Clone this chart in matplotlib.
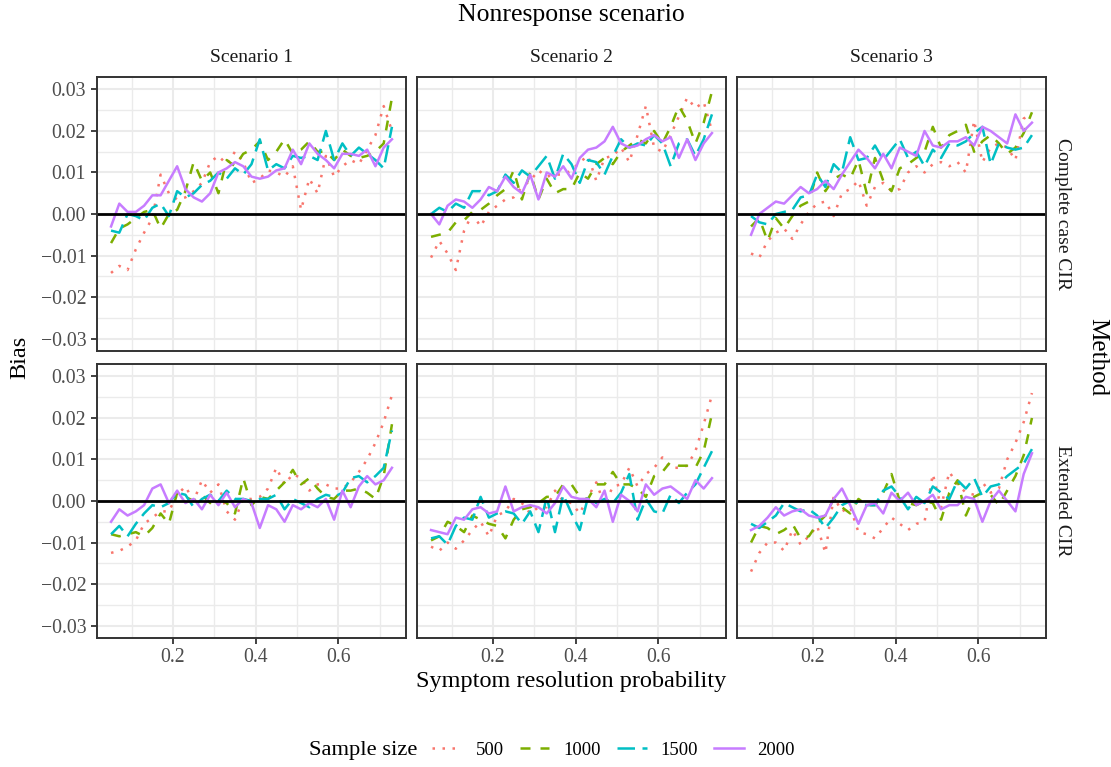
import numpy as np
import matplotlib
matplotlib.use("Agg")
import matplotlib.pyplot as plt
from matplotlib.lines import Line2D
from matplotlib.ticker import FixedLocator, FuncFormatter

plt.rcParams['font.family'] = ['Liberation Serif', 'DejaVu Serif']

# ---------------- data ----------------
resolution_prob = np.round(np.arange(0.05, 0.7301, 0.02), 2)
sample_sizes = ["500", "1000", "1500", "2000"]
scenarios = ["Scenario 1", "Scenario 2", "Scenario 3"]
methods = ["Complete case CIR", "Extended CIR"]

# bias values, in units of 0.001
cc_s1_500 = [-14.2, -12.5, -13.5, -8.5, -4.5, -1.0, 9.5, 5.0, 3.5, 4.0, 5.5, 7.5, 12.5, 14.0, 12.0, 15.0, 12.5, 7.5, 8.5, 10.5, 10.0, 9.0, 11.5, 1.0, 8.5, 5.0, 14.0, 9.0, 11.5, 13.0, 12.0, 15.5, 19.0, 26.0, 20.0]
cc_s1_1000 = [-7.0, -3.5, -2.5, -1.0, 0.5, 1.0, -3.5, 0.0, 1.0, 5.5, 12.5, 8.0, 10.0, 5.0, 13.0, 11.5, 14.5, 15.5, 17.5, 13.0, 15.0, 18.0, 14.5, 15.5, 17.5, 15.0, 15.0, 13.0, 15.5, 14.0, 13.5, 14.0, 15.0, 17.0, 28.0]
cc_s1_1500 = [-4.0, -4.5, 0.0, -0.5, -1.5, 1.5, 2.5, -0.5, 5.5, 4.0, 5.0, 7.0, 8.0, 10.0, 8.5, 11.0, 9.5, 12.0, 18.0, 10.5, 12.0, 11.0, 14.0, 13.5, 14.0, 13.0, 20.0, 13.0, 17.0, 14.0, 16.0, 14.5, 13.0, 11.0, 21.0]
cc_s1_2000 = [-3.0, 2.5, 0.5, 0.5, 2.0, 4.5, 4.5, 8.0, 11.5, 6.0, 4.0, 3.0, 5.0, 10.0, 11.0, 12.5, 11.5, 9.0, 8.5, 9.0, 10.5, 11.0, 15.5, 12.0, 17.0, 14.5, 13.0, 11.0, 14.5, 14.5, 14.0, 15.5, 11.5, 16.0, 18.0]

cc_s2_500 = [-10.5, -6.5, -9.5, -13.5, -4.0, 0.0, -3.0, 0.5, 2.0, 3.5, 4.0, 6.5, 8.0, 10.5, 9.0, 9.5, 9.5, 10.5, 12.5, 14.0, 8.0, 13.5, 14.0, 16.0, 12.5, 19.0, 26.0, 16.0, 15.0, 19.0, 23.5, 28.0, 25.5, 27.0, 20.0]
cc_s2_1000 = [-5.5, -5.0, -4.5, -2.0, -1.5, 0.5, 1.0, 2.5, 4.5, 6.0, 10.5, 3.5, 10.0, 3.5, 8.5, 5.0, 6.0, 6.0, 10.0, 8.5, 12.0, 13.5, 12.0, 15.0, 16.5, 18.0, 17.0, 20.0, 17.0, 21.0, 26.0, 22.5, 17.0, 22.0, 29.5]
cc_s2_1500 = [0.0, 1.5, 0.5, 2.5, 1.5, 5.5, 5.5, 4.5, 5.5, 9.5, 7.5, 10.5, 9.0, 11.5, 14.0, 8.5, 14.5, 12.0, 7.5, 13.0, 12.5, 9.5, 14.0, 18.0, 16.0, 17.0, 16.5, 19.0, 17.0, 11.5, 17.0, 18.0, 14.0, 18.0, 24.0]
cc_s2_2000 = [0.0, -2.5, 2.0, 3.5, 3.0, 1.5, 3.5, 6.5, 5.5, 9.0, 6.5, 5.0, 9.5, 3.5, 10.0, 9.0, 11.5, 8.5, 13.5, 15.5, 16.0, 17.5, 21.0, 17.0, 16.0, 16.5, 18.0, 19.0, 17.5, 18.5, 13.5, 18.0, 13.0, 17.0, 19.5]

cc_s3_500 = [-9.5, -10.5, -6.5, -4.5, -3.5, -6.0, -2.5, 0.5, 2.5, 3.0, -0.5, 5.0, 6.0, 8.0, 2.0, 6.5, 7.5, 5.5, 6.0, 10.0, 11.5, 10.0, 12.0, 12.5, 11.5, 12.5, 10.0, 22.5, 12.5, 16.0, 17.0, 16.0, 13.0, 23.0, 24.0]
cc_s3_1000 = [-3.0, -1.0, -6.5, -1.0, -3.5, -0.5, 2.0, 3.0, 10.0, 5.5, 8.5, 9.5, 8.5, 13.0, 5.0, 13.5, 8.0, 5.5, 11.0, 12.0, 13.5, 15.0, 21.0, 16.0, 19.0, 20.0, 21.5, 15.0, 17.5, 19.0, 17.0, 14.5, 16.0, 19.5, 24.5]
cc_s3_1500 = [-0.5, -2.0, -2.5, 0.0, 0.5, 1.0, 4.0, 4.5, 9.5, 6.5, 12.0, 10.0, 18.5, 13.0, 13.5, 16.5, 13.0, 15.5, 18.0, 13.5, 15.0, 11.5, 15.5, 13.5, 17.0, 16.5, 17.5, 19.5, 21.0, 12.0, 17.0, 16.0, 15.5, 16.0, 19.0]
cc_s3_2000 = [-5.0, 0.0, 1.5, 3.0, 2.5, 4.5, 6.5, 5.0, 6.0, 8.0, 6.0, 9.5, 12.5, 15.5, 13.5, 11.0, 14.5, 11.0, 16.0, 15.0, 14.0, 20.0, 16.5, 16.0, 17.5, 17.5, 18.5, 16.5, 21.0, 20.0, 18.5, 17.0, 24.0, 20.0, 22.0]

ex_s1_500 = [-12.5, -12.0, -11.0, -9.5, -5.5, -4.0, -2.5, -2.5, 1.5, 3.5, 0.0, 5.0, 2.0, 4.0, -2.5, -4.5, 0.5, 0.5, 1.0, 3.0, 8.0, 4.0, 6.5, 5.5, 2.5, 4.0, 4.0, 3.0, 3.0, 4.5, 7.0, 10.0, 14.0, 19.0, 25.5]
ex_s1_1000 = [-8.0, -8.5, -8.0, -7.5, -8.5, -6.5, -3.0, -5.5, 2.0, 1.0, 0.0, 1.5, -0.5, 0.5, -0.5, -3.0, 5.5, -1.0, 1.0, 0.5, 2.5, 4.5, 7.5, 4.0, 5.5, 3.0, 1.0, 0.5, 2.5, 2.5, 3.0, 2.0, 0.5, 6.0, 18.5]
ex_s1_1500 = [-8.0, -6.0, -8.5, -5.5, -3.0, -1.0, -1.5, -0.5, 2.0, 1.5, -1.5, 0.5, 1.5, 0.0, 2.5, 0.5, 0.5, 0.0, 0.5, 0.5, 1.5, -2.0, 0.5, -0.5, -1.5, 0.5, 1.5, 1.0, 2.0, 5.5, 6.0, 4.5, 6.0, 8.0, 17.0]
ex_s1_2000 = [-5.0, -2.0, -3.5, -2.5, -1.0, 3.0, 4.0, -0.5, 2.5, -0.5, 0.5, -2.0, 1.5, -1.0, 2.0, -1.5, 0.5, -0.5, -6.5, -1.0, -2.0, -5.0, -1.0, -2.0, -0.5, -1.5, 0.5, -4.5, 2.5, -1.5, 3.5, 6.0, 4.0, 5.0, 8.0]

ex_s2_500 = [-11.0, -12.0, -10.0, -11.5, -9.5, -7.0, -5.0, -8.5, -3.5, -2.5, 0.5, -0.5, -3.0, -1.5, -1.5, 2.5, 0.0, -0.5, -3.0, 1.0, 4.5, -1.0, 3.5, 4.0, 8.0, 3.5, 6.5, 8.0, 10.5, 8.0, 8.0, 8.5, 12.0, 18.5, 25.5]
ex_s2_1000 = [-9.5, -8.5, -5.0, -6.0, -7.5, -3.5, -4.5, -5.5, -6.0, -9.0, -4.5, -2.0, -1.5, -0.5, 1.0, 1.0, 4.0, 4.0, 1.0, 0.5, 4.0, 4.0, 7.0, 4.0, 4.0, 3.0, 1.0, 6.0, 7.0, 9.5, 8.5, 8.5, 8.0, 12.0, 21.0]
ex_s2_1500 = [-9.0, -8.5, -10.5, -6.0, -4.0, -4.5, 1.0, -4.0, -3.0, -2.5, -3.0, -5.5, -2.5, -7.5, 1.0, -7.5, 1.5, -3.0, -7.0, 1.0, -0.5, 0.5, -0.5, 2.0, 6.5, -4.5, 0.5, -2.5, -3.0, 1.5, -0.5, 2.0, 4.0, 8.0, 12.0]
ex_s2_2000 = [-7.0, -7.5, -8.0, -4.0, -4.5, -2.0, -1.5, -3.0, -2.5, 3.5, -2.5, -1.5, -1.0, -1.5, -3.0, -0.5, 3.5, 1.0, 0.5, 0.5, -1.5, 2.5, -5.0, 1.5, 0.0, -2.5, 4.0, 1.5, 3.0, 3.5, 2.0, 0.5, 5.0, 3.0, 5.5]

ex_s3_500 = [-17.0, -12.5, -10.0, -10.0, -12.0, -7.0, -10.5, -8.5, -6.0, -12.5, 1.0, -2.5, -1.5, -7.5, -8.0, -9.0, -6.5, -4.0, -5.5, -7.0, -5.5, -5.0, 6.5, -1.5, 7.0, 4.0, 2.0, 1.5, 4.5, 2.0, 3.0, 10.0, 14.0, 19.0, 26.0]
ex_s3_1000 = [-10.0, -6.0, -6.5, -8.0, -7.0, -5.5, -9.0, -8.5, -5.5, -3.5, 0.5, -1.5, -3.0, 0.5, -1.0, -1.0, 2.0, 6.5, 0.0, -0.5, -1.0, 0.0, -0.5, -4.5, 2.0, 5.0, -3.5, 1.0, 2.0, 1.5, -1.0, 2.5, 6.0, 11.0, 20.0]
ex_s3_1500 = [-5.5, -6.5, -5.0, -3.5, -0.5, -1.5, -2.5, -2.0, -3.5, -6.5, -4.0, -1.0, 0.0, -0.5, -1.0, -1.0, 2.5, 3.5, 1.0, -2.0, 1.0, -0.5, 3.5, 2.0, 0.5, 5.0, 3.0, 5.5, 1.0, 3.5, 4.0, 6.0, 7.5, 9.0, 12.5]
ex_s3_2000 = [-7.0, -6.0, -4.0, -1.5, -3.5, -2.5, -2.0, -3.5, -4.0, -3.5, 0.5, 3.0, -1.0, -5.5, -1.0, -0.5, -3.0, 2.0, 0.0, 2.0, -1.0, 0.0, 1.5, -2.0, -1.0, -1.0, 1.0, 0.5, -5.0, 0.0, 2.5, 0.0, -2.5, 6.5, 11.5]

panels = {
    (0, 0): [cc_s1_500, cc_s1_1000, cc_s1_1500, cc_s1_2000],
    (0, 1): [cc_s2_500, cc_s2_1000, cc_s2_1500, cc_s2_2000],
    (0, 2): [cc_s3_500, cc_s3_1000, cc_s3_1500, cc_s3_2000],
    (1, 0): [ex_s1_500, ex_s1_1000, ex_s1_1500, ex_s1_2000],
    (1, 1): [ex_s2_500, ex_s2_1000, ex_s2_1500, ex_s2_2000],
    (1, 2): [ex_s3_500, ex_s3_1000, ex_s3_1500, ex_s3_2000],
}

y_ticks = [-0.03, -0.02, -0.01, 0.0, 0.01, 0.02, 0.03]
x_ticks = [0.2, 0.4, 0.6]

# ---------------- style ----------------
colors = ['#F8766D', '#7CAE00', '#00BFC4', '#C77CFF']
linestyles = [(0, (1, 3)), (0, (4, 4)), (0, (7, 3)), '-']
LW = 1.8

W, H = 1111, 767
fig = plt.figure(figsize=(W / 100, H / 100), dpi=100)

def fx(px):
    return px / W

def fy(py):
    return 1 - py / H

col_left = [97, 417, 737]
panel_w = 309
row_top = [77, 364]
panel_h = 274

def fmt(v, pos):
    if abs(v) < 1e-9:
        return "0.00"
    return f"{v:.2f}".replace('-', '\u2212')

xmin, xmax = resolution_prob.min(), resolution_prob.max()
xpad = 0.05 * (xmax - xmin)
ypad = 0.05 * (y_ticks[-1] - y_ticks[0])

for r in range(2):
    for c in range(3):
        ax = fig.add_axes([fx(col_left[c]), fy(row_top[r] + panel_h),
                           fx(panel_w), panel_h / H])
        ax.set_facecolor('white')
        for k, vals in enumerate(panels[(r, c)]):
            ax.plot(resolution_prob, np.array(vals) * 1e-3, color=colors[k],
                    linestyle=linestyles[k], lw=LW, zorder=2)
        ax.axhline(0, color='black', lw=2.0, zorder=3)
        ax.set_xlim(xmin - xpad, xmax + xpad)
        ax.set_ylim(y_ticks[0] - ypad, y_ticks[-1] + ypad)
        ax.xaxis.set_major_locator(FixedLocator(x_ticks))
        ax.xaxis.set_minor_locator(FixedLocator([0.1, 0.3, 0.5, 0.7]))
        ax.yaxis.set_major_locator(FixedLocator(y_ticks))
        ax.yaxis.set_minor_locator(FixedLocator([-0.025, -0.015, -0.005, 0.005, 0.015, 0.025]))
        ax.grid(which='major', color='#EBEBEB', lw=1.5, zorder=0)
        ax.grid(which='minor', color='#EBEBEB', lw=1.0, zorder=0)
        ax.set_axisbelow(True)
        for sp in ax.spines.values():
            sp.set_color('#333333')
            sp.set_linewidth(1.4)
            sp.set_zorder(4)
        ax.tick_params(which='minor', length=0)
        ax.tick_params(which='major', length=4.3, width=1.3, color='#333333',
                       labelcolor='#4D4D4D', labelsize=14.2)
        ax.tick_params(axis='y', pad=3.5)
        ax.tick_params(axis='x', pad=3.0)
        ax.yaxis.set_major_formatter(FuncFormatter(fmt))
        ax.xaxis.set_major_formatter(FuncFormatter(lambda v, p: f"{v:.1f}"))
        if c != 0:
            ax.tick_params(axis='y', length=0, labelleft=False)
        if r != 1:
            ax.tick_params(axis='x', length=0, labelbottom=False)
        if r == 0:
            fig.text(fx(col_left[c] + panel_w / 2), fy(58), scenarios[c],
                     ha='center', va='center', fontsize=14, color='#1A1A1A')
        if c == 2:
            fig.text(fx(1062), fy(row_top[r] + panel_h / 2), methods[r],
                     ha='center', va='center', rotation=-90, fontsize=14,
                     color='#1A1A1A')

fig.text(fx(571), fy(15), "Nonresponse scenario", ha='center', va='center', fontsize=18.5)
fig.text(fx(1097), fy(357), "Method", ha='center', va='center', rotation=-90, fontsize=18)
fig.text(fx(20), fy(357), "Bias", ha='center', va='center', rotation=90, fontsize=17.5)
fig.text(fx(571), fy(682), "Symptom resolution probability", ha='center', va='center', fontsize=17.5)

# legend
fig.text(fx(309), fy(750), "Sample size", ha='left', va='center', fontsize=16.2)
handles = [Line2D([], [], color=colors[k], linestyle=linestyles[k], lw=LW) for k in range(4)]
fig.legend(handles, sample_sizes, loc='center left', bbox_to_anchor=(fx(432), fy(750)),
           ncol=4, frameon=False, fontsize=13.4, handlelength=1.6, handletextpad=0.75,
           columnspacing=0.85, borderpad=0, borderaxespad=0)

fig.savefig("out.png", dpi=100, facecolor='white')
